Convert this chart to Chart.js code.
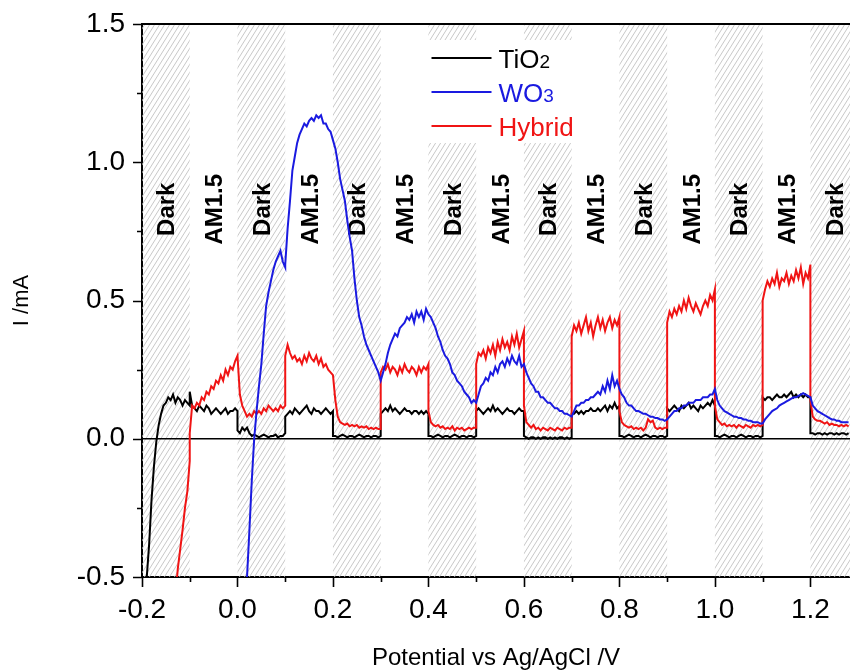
<!DOCTYPE html>
<html><head><meta charset="utf-8">
<script src="https://cdn.jsdelivr.net/npm/chart.js@4.4.1/dist/chart.umd.min.js"></script>
<style>html,body{margin:0;padding:0;background:#fff}canvas{display:block}</style>
</head><body>
<canvas id="c" width="850" height="671"></canvas>
<script>
// Potential (V vs Ag/AgCl). Each 0.1 V window repeats its boundary value so the light on/off steps are vertical.
const potential = [
 -0.200,-0.195,-0.190,-0.185,-0.180,-0.175,-0.170,-0.165,-0.160,-0.155,-0.150,-0.145,-0.140,-0.135,-0.130,-0.125,-0.120,-0.115,-0.110,-0.105,-0.100,
 -0.100,-0.095,-0.090,-0.085,-0.080,-0.075,-0.070,-0.065,-0.060,-0.055,-0.050,-0.045,-0.040,-0.035,-0.030,-0.025,-0.020,-0.015,-0.010,-0.005,0.000,
 0.000,0.005,0.010,0.015,0.020,0.025,0.030,0.035,0.040,0.045,0.050,0.055,0.060,0.065,0.070,0.075,0.080,0.085,0.090,0.095,0.100,
 0.100,0.105,0.110,0.115,0.120,0.125,0.130,0.135,0.140,0.145,0.150,0.155,0.160,0.165,0.170,0.175,0.180,0.185,0.190,0.195,0.200,
 0.200,0.205,0.210,0.215,0.220,0.225,0.230,0.235,0.240,0.245,0.250,0.255,0.260,0.265,0.270,0.275,0.280,0.285,0.290,0.295,0.300,
 0.300,0.305,0.310,0.315,0.320,0.325,0.330,0.335,0.340,0.345,0.350,0.355,0.360,0.365,0.370,0.375,0.380,0.385,0.390,0.395,0.400,
 0.400,0.405,0.410,0.415,0.420,0.425,0.430,0.435,0.440,0.445,0.450,0.455,0.460,0.465,0.470,0.475,0.480,0.485,0.490,0.495,0.500,
 0.500,0.505,0.510,0.515,0.520,0.525,0.530,0.535,0.540,0.545,0.550,0.555,0.560,0.565,0.570,0.575,0.580,0.585,0.590,0.595,0.600,
 0.600,0.605,0.610,0.615,0.620,0.625,0.630,0.635,0.640,0.645,0.650,0.655,0.660,0.665,0.670,0.675,0.680,0.685,0.690,0.695,0.700,
 0.700,0.705,0.710,0.715,0.720,0.725,0.730,0.735,0.740,0.745,0.750,0.755,0.760,0.765,0.770,0.775,0.780,0.785,0.790,0.795,0.800,
 0.800,0.805,0.810,0.815,0.820,0.825,0.830,0.835,0.840,0.845,0.850,0.855,0.860,0.865,0.870,0.875,0.880,0.885,0.890,0.895,0.900,
 0.900,0.905,0.910,0.915,0.920,0.925,0.930,0.935,0.940,0.945,0.950,0.955,0.960,0.965,0.970,0.975,0.980,0.985,0.990,0.995,1.000,
 1.000,1.005,1.010,1.015,1.020,1.025,1.030,1.035,1.040,1.045,1.050,1.055,1.060,1.065,1.070,1.075,1.080,1.085,1.090,1.095,1.100,
 1.100,1.105,1.110,1.115,1.120,1.125,1.130,1.135,1.140,1.145,1.150,1.155,1.160,1.165,1.170,1.175,1.180,1.185,1.190,1.195,1.200,
 1.200,1.205,1.210,1.215,1.220,1.225,1.230,1.235,1.240,1.245,1.250,1.255,1.260,1.265,1.270,1.275,1.280
];
const tio2 = [
 -0.95,-0.70,-0.50,-0.38,-0.22,-0.10,-0.01, 0.05,0.09,0.12,0.13,0.15,0.14,0.16, 0.13,0.15,0.14,0.12,0.14,0.13,0.12,
 0.17,0.12,0.11,0.10,0.12,0.11,0.10, 0.12,0.11,0.09,0.10,0.11,0.10,0.09, 0.10,0.11,0.09,0.10,0.10,0.11,0.10,
 0.03,0.02,0.04,0.03,0.04,0.02,0.01, 0.015,0.01,0.005,0.01,0.015,0.01,0.005, 0.01,0.01,0.015,0.005,0.01,0.01,0.02,
 0.08,0.09,0.10,0.09,0.11,0.10,0.09, 0.10,0.11,0.12,0.10,0.09,0.11,0.10, 0.10,0.09,0.10,0.11,0.10,0.09,0.10,
 0.01,0.01,0.005,0.01,0.015,0.01,0.005, 0.01,0.01,0.005,0.01,0.015,0.01,0.005, 0.01,0.01,0.005,0.01,0.01,0.005,0.01,
 0.09,0.10,0.11,0.10,0.12,0.10,0.11, 0.10,0.09,0.10,0.11,0.10,0.10,0.09, 0.10,0.10,0.09,0.10,0.09,0.10,0.09,
 0.01,0.01,0.005,0.01,0.015,0.01,0.005, 0.01,0.01,0.005,0.01,0.015,0.01,0.005, 0.01,0.01,0.005,0.01,0.01,0.005,0.01,
 0.10,0.11,0.10,0.09,0.10,0.11,0.10, 0.12,0.10,0.11,0.10,0.09,0.10,0.11, 0.10,0.10,0.09,0.10,0.11,0.10,0.10,
 0.01,0.005,0.0,0.005,0.005,0.0,0.005, 0.0,0.005,0.005,0.0,0.005,0.0,0.005, 0.0,0.005,0.005,0.0,0.005,0.0,0.005,
 0.09,0.09,0.10,0.09,0.10,0.09,0.10, 0.10,0.11,0.10,0.10,0.11,0.10,0.11, 0.12,0.10,0.12,0.11,0.13,0.11,0.12,
 0.01,0.01,0.005,0.01,0.015,0.01,0.005, 0.01,0.01,0.005,0.01,0.015,0.01,0.005, 0.01,0.01,0.005,0.01,0.01,0.005,0.01,
 0.11,0.10,0.11,0.12,0.11,0.10,0.12, 0.11,0.12,0.13,0.11,0.12,0.11,0.10, 0.12,0.11,0.12,0.13,0.12,0.14,0.12,
 0.01,0.01,0.005,0.01,0.015,0.01,0.005, 0.01,0.01,0.005,0.01,0.015,0.01,0.005, 0.01,0.01,0.005,0.01,0.01,0.005,0.01,
 0.15,0.14,0.15,0.15,0.14,0.15,0.16, 0.15,0.15,0.16,0.15,0.16,0.17,0.15, 0.16,0.15,0.16,0.15,0.16,0.15,0.15,
 0.02,0.02,0.015,0.02,0.02,0.015,0.02, 0.015,0.02,0.02,0.015,0.02,0.015,0.02, 0.02,0.015,0.02
];
const wo3 = [
 null,null,null,null,null,null,null, null,null,null,null,null,null,null, null,null,null,null,null,null,null,
 null,null,null,null,null,null,null, null,null,null,null,null,null,null, null,null,null,null,null,null,null,
 -1.15,-1.0,-0.83,-0.66,-0.50,-0.33,-0.15, 0.0,0.10,0.19,0.27,0.38,0.48,0.53, 0.57,0.61,0.64,0.66,0.68,0.64,0.62,
 0.63,0.76,0.86,0.97,1.02,1.07,1.10, 1.12,1.14,1.13,1.15,1.16,1.15,1.17, 1.16,1.17,1.14,1.14,1.12,1.11,1.08,
 1.08,1.05,1.00,0.94,0.90,0.86,0.79, 0.73,0.68,0.58,0.50,0.44,0.41,0.37, 0.34,0.32,0.30,0.28,0.26,0.24,0.21,
 0.21,0.24,0.27,0.31,0.34,0.36,0.38, 0.37,0.40,0.41,0.42,0.44,0.43,0.45, 0.42,0.46,0.44,0.46,0.43,0.47,0.45,
 0.45,0.44,0.42,0.40,0.37,0.35,0.32, 0.30,0.29,0.27,0.24,0.23,0.21,0.20, 0.19,0.17,0.16,0.15,0.13,0.14,0.13,
 0.13,0.16,0.19,0.20,0.22,0.21,0.24, 0.23,0.26,0.24,0.27,0.28,0.26,0.29, 0.27,0.30,0.28,0.27,0.30,0.26,0.27,
 0.27,0.24,0.22,0.20,0.19,0.17,0.17, 0.15,0.15,0.14,0.13,0.13,0.12,0.11, 0.11,0.10,0.10,0.09,0.09,0.085,0.08,
 0.08,0.10,0.12,0.12,0.13,0.13,0.14, 0.14,0.15,0.15,0.16,0.17,0.16,0.19, 0.17,0.21,0.18,0.23,0.19,0.21,0.18,
 0.18,0.16,0.15,0.13,0.12,0.12,0.11, 0.10,0.10,0.095,0.09,0.09,0.085,0.08, 0.08,0.075,0.075,0.07,0.07,0.065,0.07,
 0.07,0.08,0.09,0.10,0.10,0.11,0.11, 0.12,0.12,0.13,0.13,0.13,0.14,0.14, 0.14,0.15,0.15,0.15,0.16,0.16,0.18,
 0.18,0.14,0.12,0.11,0.10,0.095,0.09, 0.085,0.08,0.08,0.075,0.075,0.07,0.07, 0.065,0.065,0.06,0.06,0.06,0.055,0.055,
 0.055,0.07,0.08,0.09,0.10,0.105,0.11, 0.12,0.125,0.13,0.135,0.14,0.145,0.15, 0.15,0.155,0.16,0.165,0.16,0.155,0.15,
 0.15,0.12,0.11,0.10,0.095,0.09,0.085, 0.08,0.075,0.07,0.07,0.065,0.065,0.06, 0.06,0.06,0.06
];
const hybrid = [
 null,null,null,null,null,null,null, null,null,null,null,null,-0.78,-0.68, -0.57,-0.47,-0.40,-0.33,-0.25,-0.19,-0.08,
 0.02,0.12,0.11,0.13,0.12,0.15,0.14, 0.17,0.16,0.19,0.18,0.21,0.20,0.23, 0.21,0.25,0.23,0.26,0.25,0.28,0.30,
 0.30,0.16,0.12,0.10,0.08,0.09,0.08, 0.10,0.09,0.10,0.09,0.11,0.10,0.12, 0.11,0.10,0.11,0.10,0.12,0.11,0.12,
 0.30,0.34,0.31,0.29,0.30,0.28,0.29, 0.27,0.30,0.28,0.31,0.29,0.28,0.30, 0.27,0.29,0.26,0.27,0.25,0.24,0.23,
 0.23,0.14,0.08,0.06,0.055,0.05,0.055, 0.045,0.05,0.045,0.05,0.04,0.045,0.04, 0.045,0.035,0.04,0.035,0.04,0.035,0.035,
 0.24,0.26,0.25,0.27,0.24,0.26,0.25, 0.23,0.26,0.24,0.27,0.25,0.24,0.26, 0.25,0.23,0.26,0.24,0.26,0.25,0.27,
 0.10,0.06,0.05,0.045,0.05,0.04,0.045, 0.035,0.04,0.035,0.045,0.03,0.04,0.035, 0.04,0.03,0.035,0.04,0.035,0.04,0.04,
 0.27,0.31,0.30,0.32,0.29,0.33,0.31, 0.34,0.30,0.35,0.32,0.36,0.33,0.35, 0.32,0.37,0.34,0.38,0.33,0.36,0.39,
 0.12,0.06,0.05,0.04,0.05,0.035,0.04, 0.03,0.04,0.035,0.03,0.04,0.035,0.03, 0.04,0.035,0.03,0.04,0.035,0.04,0.04,
 0.37,0.41,0.39,0.42,0.38,0.41,0.44, 0.39,0.42,0.37,0.41,0.44,0.40,0.43, 0.39,0.42,0.44,0.40,0.43,0.41,0.44,
 0.10,0.06,0.05,0.045,0.04,0.045,0.035, 0.04,0.035,0.04,0.03,0.04,0.07,0.06, 0.065,0.04,0.035,0.04,0.035,0.04,0.04,
 0.42,0.46,0.44,0.47,0.45,0.48,0.46, 0.50,0.47,0.51,0.48,0.46,0.49,0.47, 0.45,0.48,0.50,0.48,0.52,0.50,0.54,
 0.12,0.07,0.06,0.05,0.055,0.045,0.05, 0.045,0.05,0.04,0.05,0.045,0.04,0.05, 0.045,0.04,0.05,0.045,0.05,0.045,0.05,
 0.50,0.54,0.57,0.55,0.58,0.56,0.60, 0.55,0.58,0.57,0.60,0.56,0.59,0.57, 0.61,0.58,0.62,0.56,0.60,0.58,0.63,
 0.14,0.08,0.07,0.065,0.065,0.06,0.055, 0.06,0.05,0.055,0.05,0.05,0.045,0.05, 0.045,0.05,0.045
];
const seriesNames = ['TiO', 'WO', 'Hybrid'];
const seriesSubs = ['2', '3', ''];
const seriesColors = ['#000000', '#1a1ae0', '#f01414'];
const darkStarts = [-0.2, 0.0, 0.2, 0.4, 0.6, 0.8, 1.0, 1.2];
const bandWidth = 0.1;
const bandLabelPos = [-0.15,-0.05,0.05,0.15,0.25,0.35,0.45,0.55,0.65,0.75,0.85,0.95,1.05,1.15,1.25];
const bandLabelText = ['Dark','AM1.5','Dark','AM1.5','Dark','AM1.5','Dark','AM1.5','Dark','AM1.5','Dark','AM1.5','Dark','AM1.5','Dark'];
const bandLabelY = 0.83;
const xMajor = [-0.2, 0.0, 0.2, 0.4, 0.6, 0.8, 1.0, 1.2];
const xMinor = [-0.1, 0.1, 0.3, 0.5, 0.7, 0.9, 1.1];
const yMajor = [-0.5, 0.0, 0.5, 1.0, 1.5];
const yMinor = [-0.25, 0.25, 0.75, 1.25];

const FONT = '"Liberation Sans", Arial, sans-serif';
const pts = ys => potential.map((x, i) => ({x: x, y: ys[i]}));

function makeHatch() {
  const c = document.createElement('canvas');
  c.width = 5; c.height = 8;
  const g = c.getContext('2d');
  g.strokeStyle = '#c2c2c2';
  g.lineWidth = 0.9;
  g.beginPath();
  g.moveTo(0, 8); g.lineTo(5, 0);
  g.moveTo(-1, 1.6); g.lineTo(1, -1.6);
  g.moveTo(4, 9.6); g.lineTo(6, 6.4);
  g.stroke();
  return c;
}

const decor = {
  id: 'decor',
  beforeDatasetsDraw(chart) {
    const {ctx, chartArea: a, scales: {x, y}} = chart;
    ctx.save();
    ctx.beginPath(); ctx.rect(a.left, a.top, a.right - a.left, a.bottom - a.top); ctx.clip();
    ctx.fillStyle = ctx.createPattern(makeHatch(), 'repeat');
    darkStarts.forEach(s => {
      const x0 = x.getPixelForValue(s), x1 = x.getPixelForValue(s + bandWidth);
      ctx.fillRect(x0, a.top, x1 - x0, a.bottom - a.top);
    });
    // legend box
    const lx = x.getPixelForValue(0.375), ly = a.top + 16;
    ctx.fillStyle = '#fff';
    ctx.fillRect(lx, ly, 165, 103);
    seriesNames.forEach((n, i) => {
      const yy = ly + 18 + i * 34;
      ctx.strokeStyle = seriesColors[i]; ctx.lineWidth = 2;
      ctx.beginPath(); ctx.moveTo(lx + 15, yy); ctx.lineTo(lx + 75, yy); ctx.stroke();
      ctx.fillStyle = seriesColors[i];
      ctx.textBaseline = 'alphabetic'; ctx.textAlign = 'left';
      ctx.font = '26px ' + FONT;
      ctx.fillText(n, lx + 82, yy + 10);
      const w = ctx.measureText(n).width;
      ctx.font = '19px ' + FONT;
      ctx.fillText(seriesSubs[i], lx + 82 + w, yy + 10);
    });
    // band labels
    ctx.fillStyle = '#000';
    ctx.font = 'bold 24px ' + FONT;
    ctx.textAlign = 'center'; ctx.textBaseline = 'middle';
    bandLabelPos.forEach((p, i) => {
      ctx.save();
      ctx.translate(x.getPixelForValue(p) + 2, y.getPixelForValue(bandLabelY));
      ctx.rotate(-Math.PI / 2);
      ctx.fillText(bandLabelText[i], 0, 0);
      ctx.restore();
    });
    // zero line
    const y0 = y.getPixelForValue(0);
    ctx.strokeStyle = '#000'; ctx.lineWidth = 1.5;
    ctx.beginPath(); ctx.moveTo(a.left, y0); ctx.lineTo(a.right, y0); ctx.stroke();
    ctx.restore();
  },
  afterDraw(chart) {
    const {ctx, chartArea: a, scales: {x, y}} = chart;
    ctx.save();
    ctx.strokeStyle = '#000'; ctx.lineWidth = 2;
    ctx.beginPath(); ctx.moveTo(a.left - 1, a.top); ctx.lineTo(a.right, a.top); ctx.stroke();
    ctx.lineWidth = 1.6;
    ctx.beginPath();
    xMajor.forEach(v => { const p = Math.round(x.getPixelForValue(v)) + 0.5; ctx.moveTo(p, a.bottom); ctx.lineTo(p, a.bottom + 10); });
    xMinor.forEach(v => { const p = Math.round(x.getPixelForValue(v)) + 0.5; ctx.moveTo(p, a.bottom); ctx.lineTo(p, a.bottom + 5); });
    yMajor.forEach(v => { const p = Math.round(y.getPixelForValue(v)) + 0.5; ctx.moveTo(a.left, p); ctx.lineTo(a.left - 9, p); });
    yMinor.forEach(v => { const p = Math.round(y.getPixelForValue(v)) + 0.5; ctx.moveTo(a.left, p); ctx.lineTo(a.left - 5, p); });
    ctx.stroke();
    ctx.restore();
  }
};

const dsOrder = [1, 2, 0];
new Chart(document.getElementById('c'), {
  type: 'line',
  data: {
    datasets: dsOrder.map(i => ({
      label: seriesNames[i] + seriesSubs[i],
      data: pts([tio2, wo3, hybrid][i]),
      borderColor: seriesColors[i],
      borderWidth: 2,
      pointRadius: 0,
      tension: 0,
      fill: false,
      spanGaps: false
    }))
  },
  options: {
    responsive: false,
    animation: false,
    devicePixelRatio: 1,
    layout: {padding: {top: 24, left: 0, right: 0, bottom: 0}},
    plugins: {legend: {display: false}, tooltip: {enabled: false}},
    scales: {
      x: {
        type: 'linear', min: -0.2, max: 1.283,
        afterBuildTicks: s => { s.ticks = xMajor.map(v => ({value: v})); },
        afterFit: s => { s.height = 94; s.paddingLeft = 0; s.paddingRight = 0; },
        grid: {display: false, drawTicks: false},
        border: {display: true, color: '#000', width: 2},
        ticks: {color: '#000', font: {family: FONT, size: 28}, padding: 16, maxRotation: 0, autoSkip: false,
                callback: v => v.toFixed(1)},
        title: {display: true, text: 'Potential vs Ag/AgCl /V', color: '#000', font: {family: FONT, size: 24, lineHeight: 1.0}, padding: {top: 0, bottom: 1}}
      },
      y: {
        type: 'linear', min: -0.5, max: 1.5,
        afterBuildTicks: s => { s.ticks = yMajor.map(v => ({value: v})); },
        afterFit: s => { s.width = 142; s.paddingTop = 0; s.paddingBottom = 0; },
        grid: {display: false, drawTicks: false},
        border: {display: true, color: '#000', width: 2},
        ticks: {color: '#000', font: {family: FONT, size: 28}, padding: 17, autoSkip: false,
                callback: v => v.toFixed(1)},
        title: {display: true, text: 'I /mA', color: '#000', font: {family: FONT, size: 22}, padding: {top: 9, bottom: 0}}
      }
    }
  },
  plugins: [decor]
});
</script>
</body></html>
